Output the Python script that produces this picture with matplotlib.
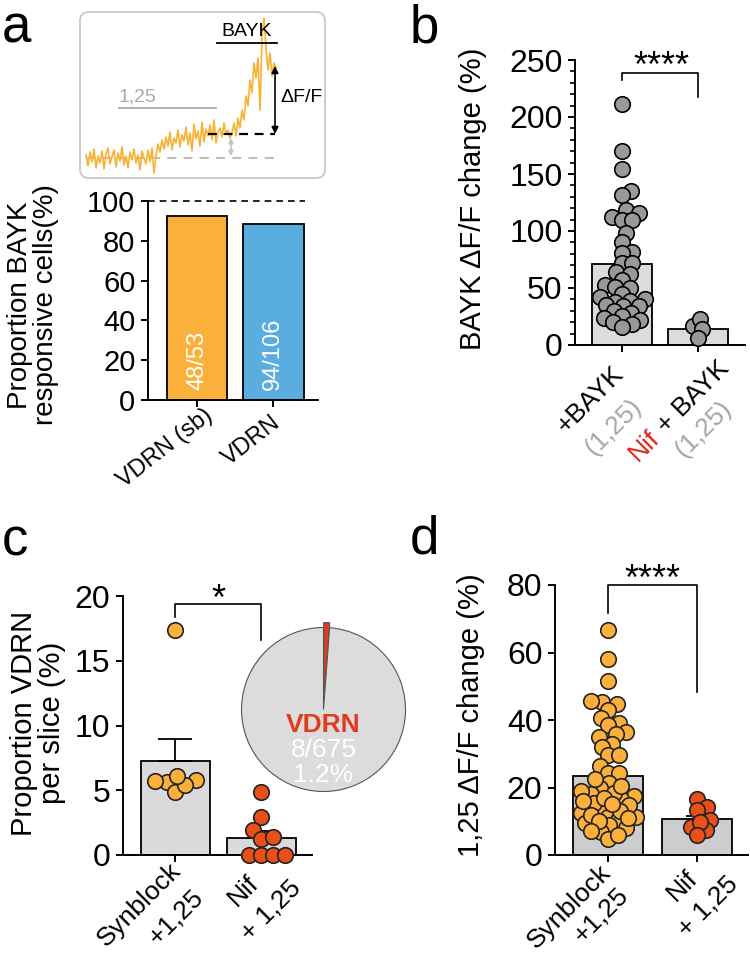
import numpy as np
import matplotlib
matplotlib.use('Agg')
import matplotlib.pyplot as plt
from matplotlib.patches import FancyBboxPatch
from matplotlib.ticker import MultipleLocator

plt.rcParams['font.family'] = ['Liberation Sans', 'DejaVu Sans']

# ---------------- data ----------------
# panel a
a_groups = ['VDRN (sb)', 'VDRN']
a_pct = [92.5, 88.6]
a_counts = ['48/53', '94/106']
a_colors = ['#FBB03B', '#5AAEDF']

trace_t = np.arange(0, 192, 2)
trace_f = [3, -8, 6, -4, 9, -10, 2, -5, 7, -11, 4, 10, -6, 1, 8, -9, 5, -3, 11, -7,
           2, -10, 6, -2, 9, -5, 3, -12, 7, 0, -6, 8, -4, 10, -15, 2,
           14, 6, 18, 9, 21, 12, 26, 8, 20, 15, 28, 11, 23, 17, 31, 13, 25, 7, 34, 19,
           27, 12, 36, 16, 29, 22, 33, 18, 38, 15, 26, 30, 21, 35, 24, 28, 20,
           25, 35, 22, 40, 30, 48, 38, 62, 52, 78, 65, 95, 80, 100, 48, 120, 140, 110,
           88, 105, 82, 95, 90]

# panel b
b_bayk = [211, 170, 154, 135, 132, 118, 116, 112, 110, 110, 98, 90, 82, 81, 72, 72,
          64, 62, 57, 53, 51, 50, 45, 42, 40, 39, 38, 35, 34, 34, 30, 28, 25, 24, 22,
          20, 18, 16]
b_nif = [17, 23, 14, 6]
b_means = [71, 14]

# panel c
c_syn = [17.4, 5.6, 5.8, 4.9, 5.4, 6.1, 5.7]
c_nif = [4.9, 2.9, 1.9, 1.2, 1.4, 0, 0, 0, 0]
c_means = [7.26, 1.3]
c_sem = [1.7, 0.55]
pie_vals = [8, 667]

# panel d
d_syn = [66.7, 58, 51.6, 45.4, 44.7, 45.6, 43, 40.6, 39, 38.5, 36.4, 35.8, 35, 33, 32,
         29.6, 29.6, 26.4, 24.4, 24.4, 21.3, 19.8, 18, 17.5, 16.6, 18.3, 13.9, 11.3,
         10.4, 11.3, 8.9, 6.9, 4.7, 22.5, 20.5, 15.5, 12.5, 9.5, 14.8, 19, 16, 8, 12,
         17, 6, 10, 13, 7, 15, 11]
d_nif = [16.6, 14.2, 13.3, 10.4, 8.3, 7.4, 9.8, 5.9]
d_means = [23.4, 10.6]
d_sem = [2.4, 1.0]

ORANGE = '#FBB03B'
RED = '#E8501A'
GRAY_TXT = '#A6A6A6'

# ---------------- layout helpers ----------------
W, H = 750, 956
PT = 72 / 100
fig = plt.figure(figsize=(7.5, 9.56), dpi=100)

ov = fig.add_axes([0, 0, 1, 1])
ov.set_xlim(0, W)
ov.set_ylim(H, 0)
ov.axis('off')


def px_axes(l, t, r, b):
    return fig.add_axes([l / W, 1 - b / H, (r - l) / W, (b - t) / H])


def style(ax, fs):
    for s in ['top', 'right']:
        ax.spines[s].set_visible(False)
    for s in ['left', 'bottom']:
        ax.spines[s].set_linewidth(1.4)
    ax.tick_params(width=1.4, length=5, labelsize=fs, pad=4)
    ax.set_xticks([0, 1])
    ax.set_xticklabels([])


def swarm(vals, center, xppu, yppu, diam, overlap, lim):
    # beeswarm offsets (pixels) kept within +-lim of the bar centre
    D = diam * overlap
    placed = []
    xs = np.zeros(len(vals))
    for i in np.argsort(vals):
        y = vals[i] * yppu
        cands = [0.0, lim, -lim]
        for px, py in placed:
            dy = abs(y - py)
            if dy < D:
                dx = np.sqrt(D * D - dy * dy)
                cands += [px + dx, px - dx]
        cands = sorted([c for c in cands if abs(c) <= lim + 1e-9], key=abs)
        best, best_d = None, -1
        for c in cands:
            d = min([np.hypot(c - px, y - py) for px, py in placed] or [1e9])
            if d >= D - 1e-6:
                best = c
                break
            if d > best_d:
                best_d, best_alt = d, c
        if best is None:
            best = best_alt
        placed.append((best, y))
        xs[i] = center + best / xppu
    return xs


def rot_label(ax, x, text, dx, dy, fs, color='k', rot=45, ha='right'):
    ax.annotate(text, xy=(x, 0), xycoords=('data', 'axes fraction'),
                xytext=(dx * PT, -dy * PT), textcoords='offset points',
                rotation=rot, rotation_mode='anchor', ha=ha, va='center',
                fontsize=fs, color=color, annotation_clip=False)


def measure(text, fs):
    t = fig.text(0, 0, text, fontsize=fs)
    w = t.get_window_extent(renderer=fig.canvas.get_renderer()).width
    t.remove()
    return w


def bracket(ax, x0, x1, y0, ytop, y1):
    ax.plot([x0, x0, x1, x1], [y0, ytop, ytop, y1], color='k', lw=1.2, clip_on=False)


# ---------------- panel a ----------------
ov.add_patch(FancyBboxPatch((80, 12), 245, 166, boxstyle='round,pad=0,rounding_size=9',
                            fc='white', ec='#C8C8C8', lw=1.3))
ins = px_axes(80, 12, 325, 178)
ins.set_xlim(-6, 239)
ins.set_ylim(-20, 146)
ins.axis('off')
ins.plot([0, 190], [0, 0], color='#B5B5B5', lw=1.3, dashes=(5, 4))
ins.plot(trace_t, trace_f, color='#F9B233', lw=1.2, clip_on=False)
ins.plot([33, 130], [50, 50], color='#AAAAAA', lw=1.3)
ins.text(33, 53, '1,25', color='#AAAAAA', fontsize=14, ha='left', va='bottom')
ins.plot([131, 191], [115, 115], color='k', lw=1.3)
ins.text(161, 118, 'BAYK', color='k', fontsize=14, ha='center', va='bottom')
ins.plot([122, 189], [24, 24], color='k', lw=1.6, dashes=(4, 3))
ins.annotate('', xy=(189, 24), xytext=(189, 92),
             arrowprops=dict(arrowstyle='<|-|>', color='k', lw=1.2, mutation_scale=10,
                             shrinkA=0, shrinkB=0))
ins.annotate('', xy=(145, 2), xytext=(145, 20),
             arrowprops=dict(arrowstyle='<|-|>', color='#BCC6CC', lw=1.2, mutation_scale=7,
                             shrinkA=0, shrinkB=0))
ins.text(194, 60, '\u0394F/F', fontsize=14, ha='left', va='center')

axa = px_axes(148, 201, 318, 400)
style(axa, 21)
axa.set_xlim(-0.645, 1.59)
axa.set_ylim(0, 100)
axa.set_yticks([0, 20, 40, 60, 80, 100])
axa.bar([0, 1], a_pct, width=0.8, color=a_colors, edgecolor='k', lw=1.3, zorder=2)
axa.plot([-0.645, 1.42], [100, 100], color='k', lw=1.2, dashes=(4, 3), clip_on=False)
for i, s in enumerate(a_counts):
    axa.text(i, 5, s, rotation=90, rotation_mode='anchor', ha='left', va='center',
             color='white', fontsize=17, zorder=3)
rot_label(axa, 0, a_groups[0], 13, 13, 17, rot=38)
rot_label(axa, 1, a_groups[1], 5, 20, 17, rot=38)
ov.text(33, 305, 'Proportion BAYK\nresponsive cells(%)', rotation=90, ha='center',
        va='center', fontsize=20, multialignment='center', linespacing=1.0)
ov.text(2, 42, 'a', fontsize=38, va='baseline')

# ---------------- panel b ----------------
axb = px_axes(575, 60, 745, 345)
style(axb, 23)
axb.set_xlim(-0.62, 1.62)
axb.set_ylim(0, 250)
axb.set_yticks([0, 50, 100, 150, 200, 250])
axb.yaxis.set_minor_locator(MultipleLocator(10))
axb.tick_params(axis='y', which='minor', length=3.5, width=1.2)
axb.bar([0, 1], b_means, width=0.8, color='#DCDCDC', edgecolor='k', lw=1.3, zorder=1)
xppu, yppu = 76, 285 / 250
for i, vals in enumerate([b_bayk, b_nif]):
    v = np.array(vals, float)
    axb.scatter(swarm(v, i, xppu, yppu, 16, 0.62, 23), v, s=125, color='#999999',
                edgecolor='k', lw=1.2, zorder=3, clip_on=False)
bracket(axb, 0, 1, 232.5, 238.6, 217.5)
axb.text(0.52, 235.5, '****', ha='center', va='baseline', fontsize=26)
fsb = 19
rot_label(axb, 0, '+BAYK', -2, 25, fsb)
rot_label(axb, 0, '(1,25)', 16, 58, fsb, color=GRAY_TXT)
full = measure('Nif + BAYK', fsb)
rot_label(axb, 1, '+ BAYK', 27, 20, fsb)
c45 = np.cos(np.pi / 4)
rot_label(axb, 1, 'Nif', 27 - full * c45, 20 + full * c45, fsb, color='#E2231A', ha='left')
rot_label(axb, 1, '(1,25)', 30, 60, fsb, color=GRAY_TXT)
ov.text(473, 199, 'BAYK \u0394F/F change (%)', rotation=90, ha='center', va='center',
        fontsize=21)
ov.text(410, 42, 'b', fontsize=38, va='baseline')

# ---------------- panel c ----------------
axc = px_axes(123, 596, 312, 855)
style(axc, 23)
axc.set_xlim(-0.605, 1.59)
axc.set_ylim(0, 20)
axc.set_yticks([0, 5, 10, 15, 20])
axc.bar([0, 1], c_means, width=0.8, color='#DADADA', edgecolor='k', lw=1.3, zorder=1)
for i, cs in enumerate([12, 10]):
    axc.errorbar(i, c_means[i], yerr=[[0], [c_sem[i]]], fmt='none', ecolor='k',
                 elinewidth=1.3, capsize=cs, capthick=1.3, zorder=2)
xppu, yppu = 86, 259 / 20
for i, (vals, col) in enumerate([(c_syn, ORANGE), (c_nif, RED)]):
    v = np.array(vals, float)
    axc.scatter(swarm(v, i, xppu, yppu, 16, 0.75, 26), v, s=125, color=col,
                edgecolor='#222222', lw=1.2, zorder=3, clip_on=False)
bracket(axc, 0, 1, 18.4, 19.4, 16.6)
axc.text(0.5, 18.9, '*', ha='center', va='baseline', fontsize=26)
fsc = 19
rot_label(axc, 0, 'Synblock', 2, 12, fsc)
rot_label(axc, 0, '+1,25', 24, 38, fsc)
rot_label(axc, 1, 'Nif', -6, 24, fsc)
rot_label(axc, 1, '+ 1,25', 36, 29, fsc)
ov.text(38, 723, 'Proportion VDRN\nper slice (%)', rotation=90, ha='center',
        va='center', fontsize=21, multialignment='center', linespacing=1.0)
ov.text(2, 555, 'c', fontsize=38, va='baseline')

# pie inset
axp = px_axes(241.5, 627.5, 405.5, 791.5)
axp.pie(pie_vals, colors=['#E03C1F', '#DCDCDC'], startangle=90, counterclock=False,
        explode=[0.06, 0], wedgeprops=dict(edgecolor='#555555', lw=0.8))
axp.set_xlim(-1, 1)
axp.set_ylim(-1, 1)
for w in axp.patches:
    w.set_clip_on(False)
axp.text(0, -0.19, 'VDRN', color='#E03C1F', fontsize=19, fontweight='bold',
         ha='center', va='center')
axp.text(0, -0.5, '8/675', color='white', fontsize=19, ha='center', va='center')
axp.text(0, -0.8, '1.2%', color='white', fontsize=19, ha='center', va='center')

# ---------------- panel d ----------------
axd = px_axes(555, 585, 748, 855)
style(axd, 23)
axd.set_xlim(-0.6, 1.57)
axd.set_ylim(0, 80)
axd.set_yticks([0, 20, 40, 60, 80])
axd.bar([0, 1], d_means, width=0.79, color='#CDCDCD', edgecolor='k', lw=1.3, zorder=1)
for i in range(2):
    axd.errorbar(i, d_means[i], yerr=[[0], [d_sem[i]]], fmt='none', ecolor='k',
                 elinewidth=1.3, capsize=8, capthick=1.3, zorder=2)
xppu, yppu = 89, 270 / 80
for i, (vals, col) in enumerate([(d_syn, ORANGE), (d_nif, RED)]):
    v = np.array(vals, float)
    axd.scatter(swarm(v, i, xppu, yppu, 16, 0.65, 28), v, s=125, color=col,
                edgecolor='#222222', lw=1.2, zorder=3, clip_on=False)
bracket(axd, 0, 1, 71.7, 80, 48.3)
axd.text(0.5, 78.5, '****', ha='center', va='baseline', fontsize=26)
rot_label(axd, 0, 'Synblock', -1, 14, fsc)
rot_label(axd, 0, '+1,25', 16, 36, fsc)
rot_label(axd, 1, 'Nif', -4, 19, fsc)
rot_label(axd, 1, '+ 1,25', 37, 25, fsc)
ov.text(471, 715, '1,25 \u0394F/F change (%)', rotation=90, ha='center', va='center',
        fontsize=21)
ov.text(410, 553, 'd', fontsize=38, va='baseline')

fig.savefig('out.png', dpi=100)
